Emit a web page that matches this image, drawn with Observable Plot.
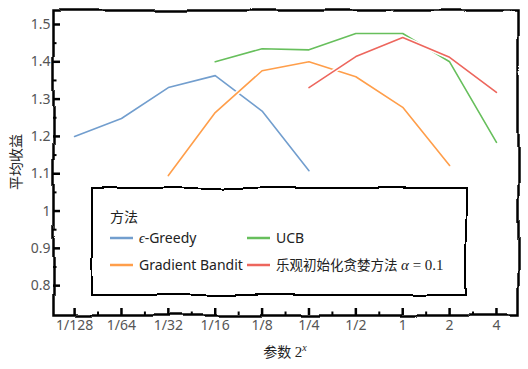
<!DOCTYPE html>
<html><head><meta charset="utf-8">
<script src="https://cdn.jsdelivr.net/npm/d3@7"></script>
<script src="https://cdn.jsdelivr.net/npm/@observablehq/plot@0.6"></script>
<style>body{margin:0;background:#fff}</style>
</head><body><div id="chart"></div>
<script>
// parameter values (x) and tick labels
const params = [1/128, 1/64, 1/32, 1/16, 1/8, 1/4, 1/2, 1, 2, 4];
const tickLabels = ["1/128", "1/64", "1/32", "1/16", "1/8", "1/4", "1/2", "1", "2", "4"];
const xMinor = [1/128, 1/64, 1/32, 1/16, 1/8, 1/4, 1/2, 1, 2].map(p => p * Math.SQRT2);
const yTicks = [0.8, 0.9, 1, 1.1, 1.2, 1.3, 1.4, 1.5];
const yMinor = [0.85, 0.95, 1.05, 1.15, 1.25, 1.35, 1.45];

// series
const methods = ["ϵ-Greedy", "Gradient Bandit", "UCB", "乐观初始化贪婪方法"];
const colors = ["#729ece", "#ff9e4a", "#67bf5c", "#ed665d"];
const epsParams = [1/128, 1/64, 1/32, 1/16, 1/8, 1/4];
const epsGreedy = [1.200, 1.248, 1.331, 1.363, 1.268, 1.108];
const gradParams = [1/32, 1/16, 1/8, 1/4, 1/2, 1, 2];
const gradientBandit = [1.095, 1.264, 1.376, 1.400, 1.360, 1.278, 1.122];
const ucbParams = [1/16, 1/8, 1/4, 1/2, 1, 2, 4];
const ucb = [1.400, 1.435, 1.432, 1.476, 1.476, 1.400, 1.184];
const optParams = [1/4, 1/2, 1, 2, 4];
const optimistic = [1.331, 1.414, 1.465, 1.412, 1.318];

const seriesList = [
  [methods[0], epsParams, epsGreedy],
  [methods[1], gradParams, gradientBandit],
  [methods[2], ucbParams, ucb],
  [methods[3], optParams, optimistic]
].map(([m, ps, vs]) => ps.map((p, i) => ({method: m, p, v: vs[i]})));

const W = 528, H = 369, ML = 53, MR = 10, MT = 10, MB = 54;
const FW = W - ML - MR, FH = H - MT - MB;
const FONT = "'Noto Sans','Noto Sans CJK SC',sans-serif";
const marks = [];
for (const rows of seriesList) {
  marks.push(Plot.line(rows, {x: "p", y: "v", stroke: "white", strokeWidth: 4.5, strokeLinecap: "round", strokeLinejoin: "round"}));
  marks.push(Plot.line(rows, {x: "p", y: "v", stroke: "method", strokeWidth: 1.6}));
}
marks.push(
  Plot.frame({stroke: "black", strokeWidth: 2.5}),
  // inward ticks
  Plot.tickY(yTicks, {y: d => d, insetRight: FW - 7, stroke: "black", strokeWidth: 2.5}),
  Plot.tickY(yMinor, {y: d => d, insetRight: FW - 3.5, stroke: "black", strokeWidth: 2}),
  Plot.tickX(params, {x: d => d, insetTop: FH - 7, stroke: "black", strokeWidth: 2.5}),
  Plot.tickX(xMinor, {x: d => d, insetTop: FH - 3.5, stroke: "black", strokeWidth: 2}),
  Plot.axisY(yTicks, {tickSize: 0, tickPadding: 3, tickFormat: d => `${d}`, fontSize: 14, fill: "#555", label: null}),
  Plot.axisX(params, {tickSize: 0, tickPadding: 5, tickFormat: d => tickLabels[params.indexOf(d)], fontSize: 14, fill: "#555", label: null})
);

const plot = Plot.plot({
  width: W, height: H,
  marginLeft: ML, marginRight: MR, marginTop: MT, marginBottom: MB,
  style: {fontFamily: FONT, fontSize: "14px", background: "white"},
  x: {type: "log", base: 2, domain: [2 ** -7.45, 2 ** 2.47], label: null},
  y: {domain: [0.72, 1.5375], label: null},
  color: {domain: methods, range: colors},
  marks
});
document.getElementById("chart").appendChild(plot);

const svg = d3.select(plot);
const defs = svg.append("defs");
const f = defs.append("filter").attr("id", "wig").attr("filterUnits", "userSpaceOnUse")
  .attr("x", -20).attr("y", -20).attr("width", 570).attr("height", 410);
f.append("feTurbulence").attr("type", "fractalNoise").attr("baseFrequency", 0.02).attr("numOctaves", 1).attr("seed", 7).attr("result", "n");
f.append("feDisplacementMap").attr("in", "SourceGraphic").attr("in2", "n").attr("scale", 6)
  .attr("xChannelSelector", "R").attr("yChannelSelector", "G");
svg.selectAll('g[aria-label="frame"], rect[aria-label="frame"]').attr("filter", "url(#wig)");

// axis titles
svg.append("text").attr("transform", "translate(15,162) rotate(-90)")
  .attr("text-anchor", "middle").attr("dominant-baseline", "central")
  .attr("font-size", 14).attr("fill", "#222").text("平均收益");
const xl = svg.append("text").attr("x", 285).attr("y", 357).attr("text-anchor", "middle")
  .attr("font-size", 14).attr("fill", "#222");
xl.append("tspan").text("参数 ");
xl.append("tspan").attr("font-family", "'Liberation Serif',serif").attr("font-size", 15).text("2");
xl.append("tspan").attr("font-family", "'Liberation Serif',serif").attr("font-style", "italic")
  .attr("font-size", 10).attr("dy", -6).text("x");

// legend
const color = plot.scale("color");
const lg = svg.append("g").attr("text-anchor", "start");
lg.append("rect").attr("x", 92).attr("y", 188).attr("width", 374).attr("height", 107)
  .attr("fill", "white").attr("stroke", "black").attr("stroke-width", 2).attr("filter", "url(#wig)");
lg.append("text").attr("text-anchor", "start").attr("x", 110).attr("y", 217).attr("dy", "0.35em").attr("font-size", 14).attr("fill", "#222").text("方法");
const pos = [[110, 238], [110, 265], [247, 238], [247, 265]];
methods.forEach((m, i) => {
  const [x0, y0] = pos[i];
  lg.append("line").attr("x1", x0).attr("x2", x0 + 23).attr("y1", y0).attr("y2", y0)
    .attr("stroke", color.apply(m)).attr("stroke-width", 2.5);
  const t = lg.append("text").attr("text-anchor", "start").attr("x", x0 + 29).attr("y", y0).attr("dy", "0.35em")
    .attr("font-size", 14).attr("fill", "#222");
  if (i === 0) {
    t.append("tspan").attr("font-family", "'Liberation Serif',serif").attr("font-style", "italic").text("ϵ");
    t.append("tspan").text("-Greedy");
  } else if (i === 3) {
    t.append("tspan").attr("font-size", 13.5).text(m + " ");
    t.append("tspan").attr("font-family", "'Liberation Serif',serif").attr("font-style", "italic").attr("font-size", 15).text("α");
    t.append("tspan").attr("font-family", "'Liberation Serif',serif").attr("font-size", 15).text(" = 0.1");
  } else {
    t.text(m);
  }
});
</script>
</body></html>
